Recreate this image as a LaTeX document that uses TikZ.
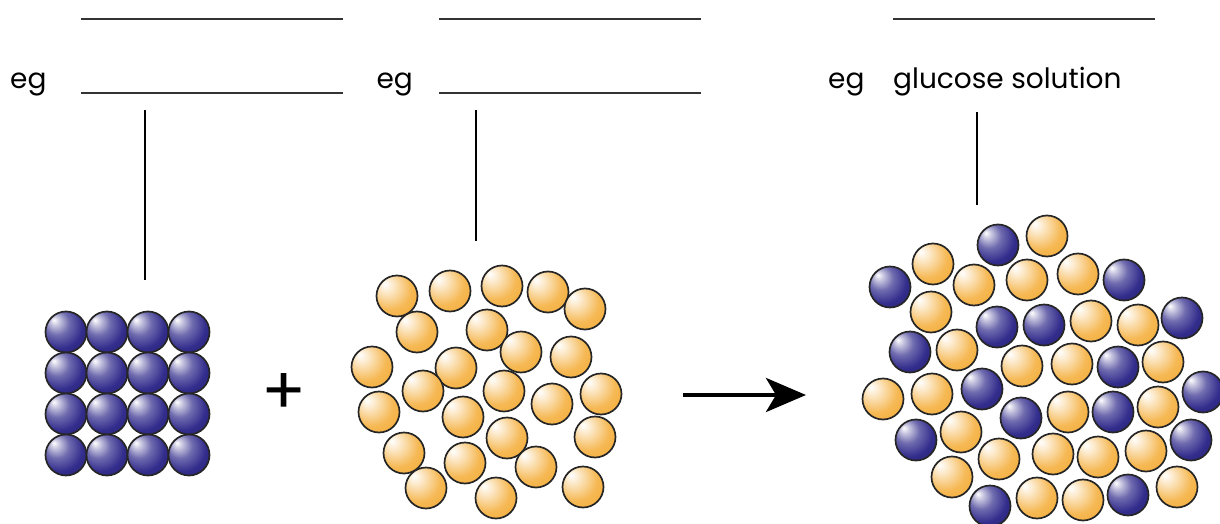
\documentclass[tikz,border=0pt]{standalone}
\usepackage{fontspec}
\setmainfont{Poppins}
\usetikzlibrary{arrows.meta}

\definecolor{soluteblue}{RGB}{50,44,140}
\definecolor{solventorange}{RGB}{244,172,54}

% sphere shadings, light from the upper left
\pgfdeclareradialshading{bluesphere}{\pgfpoint{-15bp}{15bp}}{%
	color(0bp)=(white); color(5bp)=(soluteblue!25!white);
	color(15bp)=(soluteblue!70!white); color(28bp)=(soluteblue);
	color(58bp)=(soluteblue!60!black)}
\pgfdeclareradialshading{orangesphere}{\pgfpoint{-15bp}{15bp}}{%
	color(0bp)=(white); color(8bp)=(solventorange!25!white);
	color(26bp)=(solventorange!85!white); color(42bp)=(solventorange);
	color(65bp)=(solventorange!85!black)}

\begin{document}
\begin{tikzpicture}[x=1pt,y=-1pt,
		egtext/.style={font=\fontsize{28}{30}\selectfont, inner sep=0pt},
		blank/.style={fill=black!80, minimum width=262pt, minimum height=2.5pt, inner sep=0pt},
		pointer/.style={line width=2.6pt},
		reaction/.style={line width=4pt, -{Stealth[length=40pt, width=34pt, inset=10pt]}},
		bluemol/.style={draw=black!85, line width=1.7pt, shade, shading=bluesphere},
		orangemol/.style={draw=black!85, line width=1.7pt, shade, shading=orangesphere}]

			\useasboundingbox (0,0) rectangle (1220,524);

			% lines to write on
			\node[blank] (solidname) at (212,19) {};
			\node[blank] (liquidname) at (570,19) {};
			\node[blank] (solutionname) at (1024,19) {};
			\node[blank] (solidex) at (212,93) {};
			\node[blank] (liquidex) at (570,93) {};

			\node[egtext, anchor=base west] (eg1) at (10,89) {eg};
			\node[egtext, anchor=base east] (eg2) at (413,89) {eg};
			\node[egtext, anchor=base west] (eg3) at (828,89) {eg};
			\node[egtext, anchor=base west] (solutionex) at (893,89) {glucose solution};

			\coordinate (solidtop) at (145,280);
			\coordinate (liquidtop) at (476,241);
			\coordinate (solutiontop) at (977,205);
			\draw[pointer] (solidex.south -| solidtop) ++(0,16) -- (solidtop);
			\draw[pointer] (liquidex.south -| liquidtop) ++(0,16) -- (liquidtop);
			\draw[pointer] (solutionex.south -| solutiontop) ++(0,15) -- (solutiontop);

			\node[font=\fontsize{66}{66}\selectfont, inner sep=0pt] (plus) at (284,394) {+};

			\coordinate (arrowtail) at (683,395);
			\coordinate (arrowhead) at (806,395);
			\draw[reaction] (arrowtail) -- (arrowhead);

			% solid: square lattice
			\foreach \col in {0,...,3}
				\foreach \row in {0,...,3}
					\path[bluemol] (66+41*\col,332+41*\row) circle[radius=20.5];

			% liquid: loose packing
			\foreach \p in {(397,296),(450,291),(502,286),(548,292),(585,309),
					(417,332),(487,330),(521,352),(571,357),(372,367),(456,368),
					(423,391),(504,391),(552,404),(601,394),(379,412),(463,417),
					(507,438),(595,437),(404,453),(465,463),(536,467),(426,488),
					(496,498),(583,487)}
				\path[orangemol] \p circle[radius=20.5];

			% solution: both kinds mixed
			\foreach \p in {(1047,236),(933,264),(974,285),(1027,280),(1078,274),
					(931,312),(1091,321),(1138,325),(957,350),(1022,366),(1072,364),
					(1163,362),(883,399),(932,394),(1068,412),(1158,407),(961,432),
					(999,459),(1053,454),(1098,457),(1146,451),(952,477),(1177,487),
					(1037,498),(1083,500)}
				\path[orangemol] \p circle[radius=20.5];
			\foreach \p in {(998,245),(890,287),(1124,280),(997,327),(1044,325),
					(1182,318),(910,352),(1118,367),(982,389),(1203,392),(1021,418),
					(1113,412),(916,440),(1191,440),(990,506),(1128,495)}
				\path[bluemol] \p circle[radius=20.5];

		\end{tikzpicture}
\end{document}
